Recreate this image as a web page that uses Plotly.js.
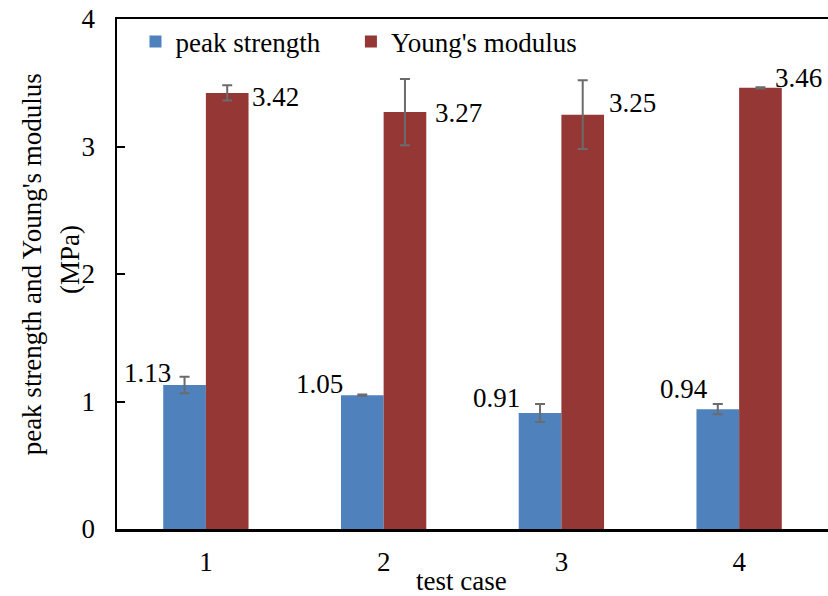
<!DOCTYPE html>
<html>
<head>
<meta charset="utf-8">
<script src="https://cdn.plot.ly/plotly-3.0.1.min.js"></script>
<style>html,body{margin:0;padding:0;background:#fff;}#chart{width:828px;height:596px;}</style>
</head>
<body>
<div id="chart"></div>
<script>
// ---- data ----
var categories = ['1', '2', '3', '4'];
var peakStrength = [1.13, 1.05, 0.91, 0.94];
var peakStrengthErr = [0.065, 0.005, 0.07, 0.04];
var youngsModulus = [3.42, 3.27, 3.25, 3.46];
var youngsModulusErr = [0.06, 0.26, 0.27, 0.005];
var seriesNames = ['peak strength', "Young's modulus"];
var yTickVals = [0, 1, 2, 3, 4];
var yTitleLines = ["peak strength and Young's modulus", '(MPa)'];
var xTitle = 'test case';

// ---- styling (label nudges in px) ----
var blueNudge = [[10, -12], [4, -11], [3, -15], [13, -20]];
var redNudge = [[2, 4], [7, 1], [3, -12], [-9, -10]];
var FONT = "'Liberation Serif', 'Times New Roman', serif";
var barHalf = 42.5;

var errStyle = {type: 'data', visible: true, color: '#6b6b6b', thickness: 2, width: 5};

var traces = [
  {type: 'bar', name: seriesNames[0], x: categories, y: peakStrength,
   marker: {color: '#4f81bd'}, legend: 'legend',
   error_y: Object.assign({array: peakStrengthErr}, errStyle)},
  {type: 'bar', name: seriesNames[1], x: categories, y: youngsModulus,
   marker: {color: '#953735'}, legend: 'legend2',
   error_y: Object.assign({array: youngsModulusErr}, errStyle)}
];

var annotations = [];
categories.forEach(function (c, i) {
  annotations.push({x: i, y: peakStrength[i], xref: 'x', yref: 'y', text: peakStrength[i].toFixed(2),
    showarrow: false, xanchor: 'right', yanchor: 'middle',
    xshift: -barHalf + blueNudge[i][0], yshift: -blueNudge[i][1],
    font: {family: FONT, size: 27, color: '#000'}});
  annotations.push({x: i, y: youngsModulus[i], xref: 'x', yref: 'y', text: youngsModulus[i].toFixed(2),
    showarrow: false, xanchor: 'left', yanchor: 'middle',
    xshift: barHalf + redNudge[i][0], yshift: -redNudge[i][1],
    font: {family: FONT, size: 27, color: '#000'}});
});
annotations.push({xref: 'paper', yref: 'paper', x: -0.1195, y: 0.519, textangle: -90,
  text: yTitleLines[0], showarrow: false,
  xanchor: 'center', yanchor: 'middle', font: {family: FONT, size: 27, color: '#000'}});
annotations.push({xref: 'paper', yref: 'paper', x: -0.0665, y: 0.529, textangle: -90,
  text: yTitleLines[1], showarrow: false,
  xanchor: 'center', yanchor: 'middle', font: {family: FONT, size: 27, color: '#000'}});
annotations.push({xref: 'paper', yref: 'paper', x: 0.485, y: -0.102,
  text: xTitle, showarrow: false, xanchor: 'center', yanchor: 'middle',
  font: {family: FONT, size: 27, color: '#000'}});

var legendBase = {orientation: 'h', xanchor: 'left', y: 0.955, yanchor: 'middle',
  font: {family: FONT, size: 27, color: '#000'}, bgcolor: 'rgba(0,0,0,0)'};

var layout = {
  width: 828, height: 596,
  margin: {l: 117, r: 0, t: 19, b: 67, pad: 0},
  paper_bgcolor: '#fff', plot_bgcolor: '#fff',
  barmode: 'group', bargap: 0.52, bargroupgap: 0,
  font: {family: FONT, size: 27, color: '#000'},
  showlegend: true,
  legend: Object.assign({x: 0.026}, legendBase),
  legend2: Object.assign({x: 0.329}, legendBase),
  xaxis: {type: 'category', showline: true, linecolor: '#000', linewidth: 2.5,
    mirror: true, ticks: '', showgrid: false, zeroline: false,
    ticklabelstandoff: 7, tickfont: {family: FONT, size: 27, color: '#000'}},
  yaxis: {range: [0, 4], tickvals: yTickVals, showline: true, linecolor: '#000', linewidth: 2.5,
    ticks: 'inside', ticklen: 8, tickwidth: 2, tickcolor: '#000',
    showgrid: false, zeroline: false, ticklabelstandoff: 14,
    tickfont: {family: FONT, size: 27, color: '#000'}},
  annotations: annotations
};

Plotly.newPlot('chart', traces, layout, {displayModeBar: false, staticPlot: true});
</script>
</body>
</html>
